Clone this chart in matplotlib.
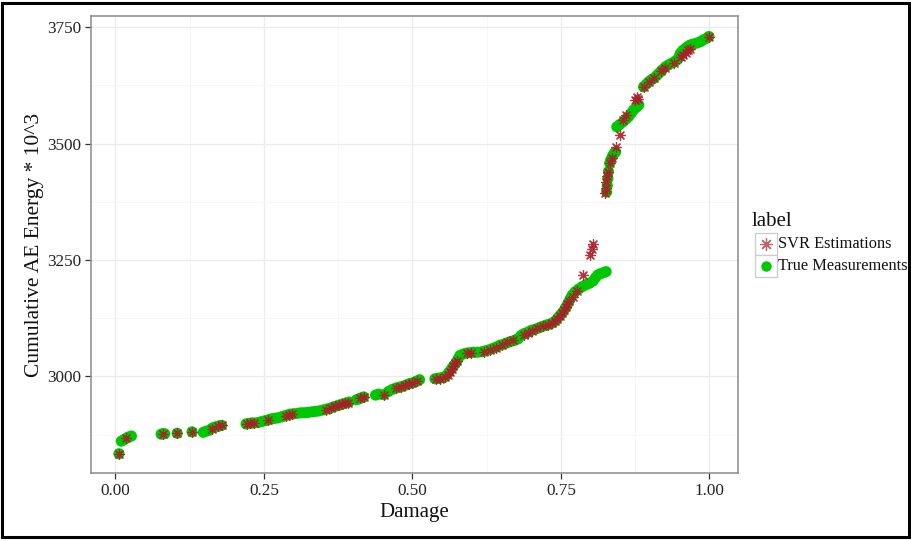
import matplotlib
matplotlib.use("Agg")
import matplotlib.pyplot as plt
from matplotlib.lines import Line2D
from matplotlib.patches import Rectangle

# ---------------- data ----------------
true_x = [0.006, 0.010, 0.014, 0.018, 0.022, 0.027,
          0.077, 0.080, 0.083, 0.104, 0.129,
          0.148, 0.152, 0.157, 0.163, 0.167, 0.171, 0.175, 0.179,
          0.220, 0.224, 0.229, 0.233, 0.240, 0.246, 0.252, 0.258, 0.263, 0.268,
          0.273, 0.279, 0.284, 0.289, 0.294, 0.300, 0.307, 0.313, 0.319, 0.325,
          0.331, 0.337, 0.343, 0.350, 0.356, 0.362, 0.368, 0.373, 0.378, 0.383,
          0.388, 0.393, 0.406, 0.410, 0.414, 0.418, 0.438, 0.443, 0.452,
          0.460, 0.466, 0.472, 0.478, 0.484, 0.490, 0.496, 0.502, 0.507, 0.512,
          0.538, 0.543, 0.548, 0.553, 0.558, 0.562, 0.566, 0.570, 0.574, 0.577,
          0.580, 0.585, 0.591, 0.597, 0.603, 0.610, 0.617, 0.623, 0.629, 0.635,
          0.641, 0.647, 0.653, 0.659, 0.665, 0.671, 0.676, 0.678,
          0.683, 0.688, 0.694, 0.700, 0.706, 0.712, 0.718, 0.724, 0.730, 0.736,
          0.741, 0.745, 0.749, 0.753, 0.757, 0.760, 0.763, 0.766, 0.769, 0.774,
          0.780, 0.786, 0.792, 0.798, 0.804, 0.808, 0.812, 0.817, 0.822, 0.826,
          0.827, 0.828, 0.829, 0.830, 0.832, 0.834, 0.837, 0.840, 0.842,
          0.844, 0.849, 0.855, 0.860, 0.864, 0.868, 0.872, 0.877, 0.881,
          0.889, 0.894, 0.898, 0.902, 0.906, 0.911, 0.915, 0.920, 0.926, 0.931,
          0.937, 0.942, 0.946, 0.949, 0.951, 0.955, 0.960, 0.964, 0.968, 0.973,
          0.979, 0.985, 0.990, 0.995, 0.999]
true_y = [2834, 2861, 2864, 2867, 2870, 2872,
          2876, 2877, 2877, 2878, 2881,
          2880, 2882, 2884, 2889, 2891, 2892, 2894, 2895,
          2898, 2899, 2900, 2900, 2901, 2903, 2905, 2907, 2909, 2910,
          2911, 2913, 2915, 2917, 2919, 2920, 2921, 2922, 2922, 2923,
          2924, 2925, 2926, 2928, 2930, 2932, 2935, 2937, 2939, 2941,
          2943, 2945, 2950, 2952, 2954, 2956, 2960, 2962, 2961,
          2968, 2972, 2975, 2977, 2979, 2982, 2985, 2987, 2990, 2993,
          2995, 2996, 2997, 2998, 3003, 3010, 3017, 3024, 3031, 3038,
          3045, 3048, 3050, 3051, 3052, 3052, 3053, 3055, 3057, 3060,
          3063, 3067, 3069, 3072, 3075, 3077, 3080, 3081,
          3088, 3092, 3095, 3099, 3101, 3104, 3107, 3110, 3112, 3115,
          3120, 3126, 3132, 3138, 3146, 3152, 3160, 3168, 3175, 3182,
          3188, 3193, 3197, 3200, 3205, 3212, 3218, 3221, 3223, 3225,
          3396, 3410, 3425, 3440, 3458, 3466, 3474, 3480, 3482,
          3536, 3541, 3547, 3553, 3558, 3565, 3572, 3578, 3583,
          3622, 3628, 3633, 3637, 3640, 3646, 3651, 3658, 3665, 3669,
          3673, 3677, 3680, 3687, 3694, 3700, 3705, 3709, 3712, 3714,
          3716, 3719, 3723, 3726, 3730]

svr_x = [0.006, 0.018, 0.080, 0.104, 0.129, 0.163, 0.172, 0.179,
         0.222, 0.226, 0.233, 0.257, 0.287, 0.292, 0.297,
         0.355, 0.363, 0.370, 0.376, 0.381, 0.386, 0.391, 0.412, 0.418,
         0.452, 0.472, 0.480, 0.488, 0.494, 0.500, 0.507,
         0.540, 0.546, 0.555, 0.560, 0.563, 0.566, 0.569, 0.572, 0.575,
         0.592, 0.598, 0.620, 0.630, 0.640, 0.650, 0.660, 0.670,
         0.688, 0.695, 0.702, 0.710, 0.720, 0.728, 0.735, 0.740, 0.744,
         0.748, 0.752, 0.755, 0.758, 0.761, 0.764, 0.770, 0.777,
         0.787, 0.799, 0.802, 0.804,
         0.824, 0.825, 0.826, 0.827, 0.829, 0.833, 0.836, 0.842, 0.849,
         0.855, 0.860, 0.874, 0.878, 0.880, 0.889, 0.898, 0.906, 0.918,
         0.925, 0.940, 0.952, 0.956, 0.960, 0.964, 0.968, 0.999]
svr_y = [2834, 2867, 2877, 2878, 2881, 2888, 2893, 2895,
         2898, 2899, 2900, 2906, 2916, 2918, 2920,
         2929, 2932, 2936, 2938, 2940, 2942, 2944, 2953, 2956,
         2960, 2975, 2978, 2981, 2984, 2986, 2990,
         2994, 2995, 2998, 3004, 3010, 3016, 3022, 3028, 3034,
         3051, 3050, 3052, 3056, 3061, 3068, 3073, 3078,
         3090, 3094, 3098, 3103, 3108, 3111, 3114, 3118, 3124,
         3130, 3136, 3142, 3149, 3155, 3163, 3170, 3184,
         3217, 3260, 3274, 3285,
         3393, 3405, 3418, 3430, 3440, 3458, 3470, 3493, 3518,
         3550, 3561, 3594, 3601, 3595, 3622, 3632, 3640, 3655,
         3662, 3672, 3685, 3690, 3695, 3700, 3704, 3729]

x_ticks = [0.00, 0.25, 0.50, 0.75, 1.00]
x_tick_labels = ["0.00", "0.25", "0.50", "0.75", "1.00"]
y_ticks = [3000, 3250, 3500, 3750]
y_tick_labels = ["3000", "3250", "3500", "3750"]
legend_title = "label"
series_labels = ["SVR Estimations", "True Measurements"]

GREEN = "#00C800"
RED = "#A8202A"
SERIF = ["Liberation Serif", "DejaVu Serif"]

W, H = 912, 541
fig = plt.figure(figsize=(W / 100, H / 100), dpi=100)
fig.patch.set_facecolor("white")

L, R, T, B = 90.7, 738, 16, 473.3
ax = fig.add_axes([L / W, 1 - B / H, (R - L) / W, (B - T) / H])

ax.scatter(true_x, true_y, s=64, color=GREEN, edgecolors="none", zorder=3)
ax.scatter(svr_x, svr_y, s=50, marker=(8, 2, 0), color=RED,
           linewidths=0.9, alpha=0.9, zorder=4)

ax.set_xlim(-0.0415, 1.048)
ax.set_ylim(2792, 3774)

ax.set_xticks(x_ticks)
ax.set_xticklabels(x_tick_labels)
ax.set_yticks(y_ticks)
ax.set_yticklabels(y_tick_labels)
ax.set_xticks([0.125, 0.375, 0.625, 0.875], minor=True)
ax.set_yticks([2875, 3125, 3375, 3625], minor=True)

ax.grid(True, which="major", color="#EBEBEB", linewidth=0.9, zorder=0)
ax.grid(True, which="minor", color="#F6F6F6", linewidth=0.6, zorder=0)
ax.set_axisbelow(True)

for sp in ax.spines.values():
    sp.set_color("#8A8A8A")
    sp.set_linewidth(1.1)

ax.tick_params(which="major", direction="out", length=4, width=0.9,
               color="#333333", pad=3, labelsize=12.3, labelcolor="#222222")
ax.tick_params(which="minor", length=0)
for lab in ax.get_xticklabels() + ax.get_yticklabels():
    lab.set_family(SERIF)

ax.set_xlabel("Damage", fontsize=15, family=SERIF, color="#111111", labelpad=3)
ax.set_ylabel("Cumulative AE Energy * 10^3", fontsize=15.5, family=SERIF,
              color="#111111", labelpad=2)

# ---------------- legend ----------------
fig.text(752 / W, 1 - 221 / H, legend_title, fontsize=15, family=SERIF,
         ha="left", va="center", color="#111111")
key_x0, key_w = 755, 21.7
key_tops = [233, 255]
for i, lab in enumerate(series_labels):
    y0 = key_tops[i]
    fig.add_artist(Rectangle((key_x0 / W, 1 - (y0 + key_w) / H), key_w / W, key_w / H,
                             transform=fig.transFigure, facecolor="white",
                             edgecolor="#CCCCCC", linewidth=0.9))
    cx, cy = (key_x0 + key_w / 2) / W, 1 - (y0 + key_w / 2) / H
    if i == 0:
        fig.add_artist(Line2D([cx], [cy], transform=fig.transFigure,
                              marker=(8, 2, 0), markersize=9, color=RED,
                              markeredgewidth=0.9, linestyle="none", alpha=0.7))
    else:
        fig.add_artist(Line2D([cx], [cy], transform=fig.transFigure,
                              marker="o", markersize=7.5, color=GREEN,
                              markeredgewidth=0, linestyle="none"))
    fig.text(778 / W, cy, lab, fontsize=11.8, family=SERIF, ha="left",
             va="center", color="#111111")

# outer black frame
fig.add_artist(Rectangle((2.5 / W, 4 / H), (W - 5) / W, (H - 6.5) / H,
                         transform=fig.transFigure, fill=False,
                         edgecolor="black", linewidth=2.2))

fig.savefig("out.png", dpi=100)
